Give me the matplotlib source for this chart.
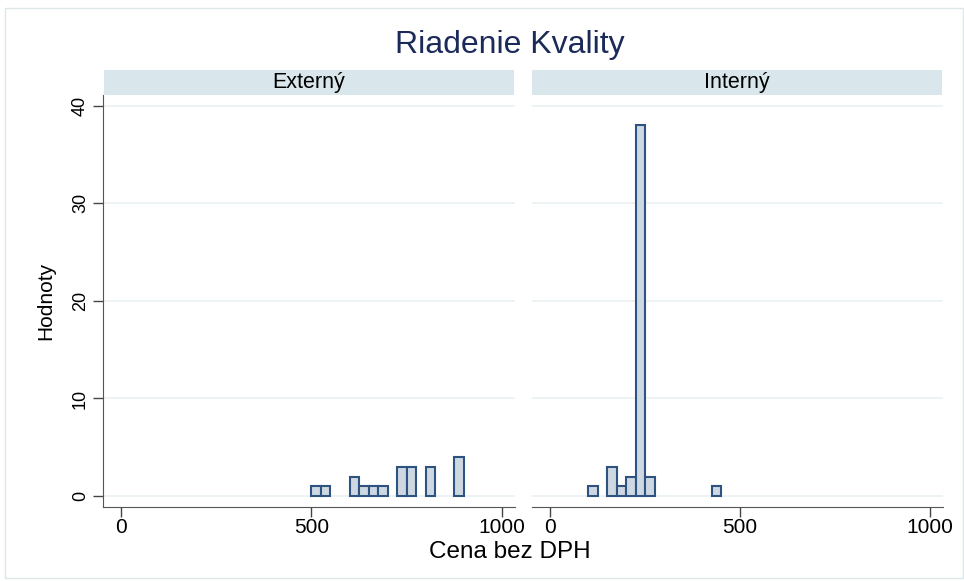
import numpy as np
import matplotlib
matplotlib.use('Agg')
import matplotlib.pyplot as plt
from matplotlib.patches import Rectangle

plt.rcParams['font.family'] = ['Liberation Sans', 'DejaVu Sans']

# histogram bins (width 25) and frequencies
bin_width = 25
ext_left = [500, 525, 600, 625, 650, 675, 725, 750, 800, 875]
ext_count = [1, 1, 2, 1, 1, 1, 3, 3, 3, 4]
int_left = [100, 150, 175, 200, 225, 250, 425]
int_count = [1, 3, 1, 2, 38, 2, 1]

panels = ['Externý', 'Interný']
x_ticks = [0, 500, 1000]
y_ticks = [0, 10, 20, 30, 40]

fill = '#cdd8e3'
edge = '#2f5380'
grid_c = '#eaf1f3'
strip_c = '#d9e6eb'

W, H = 964, 581
fig = plt.figure(figsize=(W / 100, H / 100), dpi=100)

# outer frame
fig.patches.append(Rectangle((5 / W, 1 - 578 / H), 958 / W, 570 / H, transform=fig.transFigure,
                             fill=False, edgecolor='#dde7ea', lw=1))

ax1 = fig.add_axes([103 / W, 1 - 507 / H, 412 / W, 412 / H])
ax2 = fig.add_axes([532 / W, 1 - 507 / H, 411 / W, 412 / H])

data = [(ext_left, ext_count), (int_left, int_count)]
for i, (ax, (lefts, counts)) in enumerate(zip([ax1, ax2], data)):
    ax.set_xlim(-48, 1035)
    ax.set_ylim(-1.12, 41.1)
    for y in y_ticks:
        ax.axhline(y, color=grid_c, lw=1.2, zorder=0)
    ax.bar(lefts, counts, width=bin_width, align='edge', color=fill,
           edgecolor=edge, lw=1.5, zorder=3)
    ax.set_xticks(x_ticks)
    ax.set_xticklabels([str(t) for t in x_ticks], fontsize=15)
    ax.tick_params(axis='x', length=7, width=1, color='#444444', pad=1)
    for s in ['top', 'right']:
        ax.spines[s].set_visible(False)
    ax.spines['bottom'].set_color('#555555')
    ax.spines['left'].set_color('#555555')
    if i == 0:
        ax.set_yticks(y_ticks)
        ax.set_yticklabels([str(t) for t in y_ticks], fontsize=13, rotation=90, va='center')
        ax.tick_params(axis='y', length=7, width=1, color='#444444', pad=3)
        ax.set_ylabel('Hodnoty', fontsize=15, labelpad=12)
    else:
        ax.set_yticks([])
        ax.spines['left'].set_visible(False)

# panel strips
for x0, x1, name in [(104, 514, panels[0]), (532, 942, panels[1])]:
    fig.patches.append(Rectangle((x0 / W, 1 - 95 / H), (x1 - x0) / W, 25 / H,
                                 transform=fig.transFigure, color=strip_c, lw=0))
    fig.text((x0 + x1) / 2 / W, 1 - 82.5 / H, name, ha='center', va='center', fontsize=15.5)

fig.text(510 / W, 1 - 45 / H, 'Riadenie Kvality', ha='center', va='center',
         fontsize=23, color='#1c2a5a')
fig.text(510 / W, 1 - 552 / H, 'Cena bez DPH', ha='center', va='center', fontsize=17.5)

fig.savefig('out.png', dpi=100, facecolor='white')
